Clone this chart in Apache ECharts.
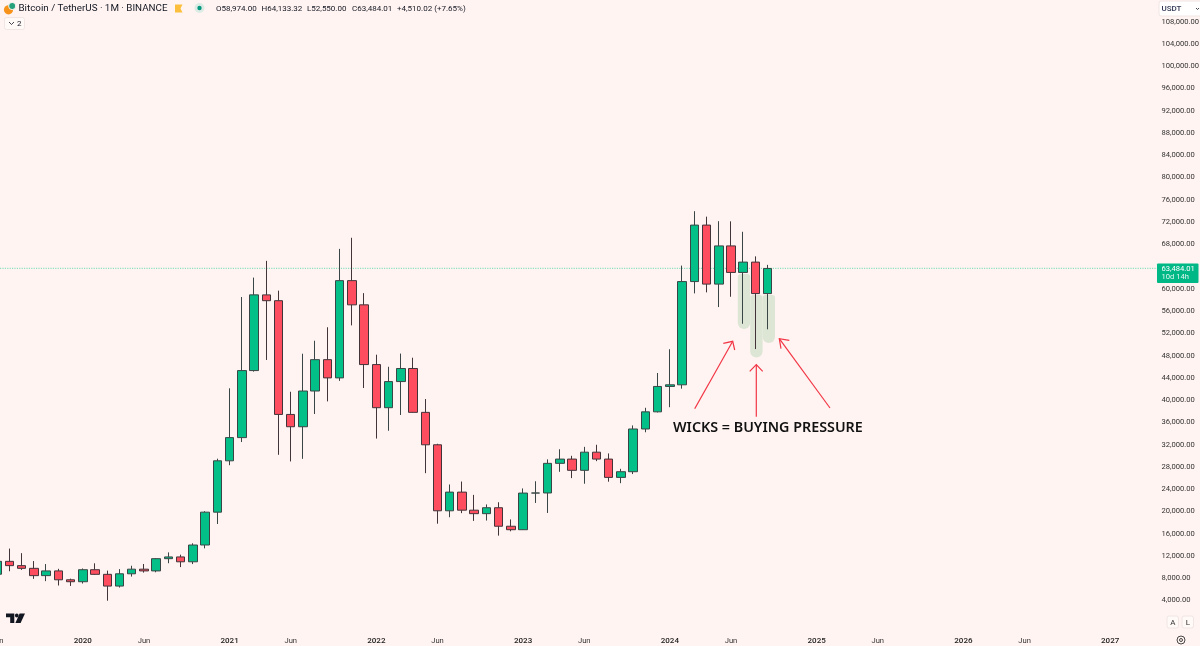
<!DOCTYPE html>
<html>
<head>
<meta charset="utf-8">
<title>BTCUSDT 1M</title>
<style>
html, body { margin: 0; padding: 0; background: #fff4f2; }
#chart { width: 1200px; height: 646px; }
</style>
<script src="https://cdn.jsdelivr.net/npm/echarts@6/dist/echarts.min.js"></script>
</head>
<body>
<div id="chart"></div>
<script>
// monthly candles, 2019-06 .. 2024-09
var opens = [8545, 10854, 10085, 9600, 8289, 9140, 7541,
    7195, 9352, 8523, 6412, 8620, 9448, 9138, 11335, 11649, 10776, 13791, 19695,
    28923, 33092, 45134, 58739, 57697, 37253, 35045, 41461, 47100, 43820, 61299, 56950,
    46216, 38466, 43160, 45510, 37630, 31801, 19942, 23296, 20050, 19423, 20490, 17165,
    16542, 23125, 23142, 28465, 29233, 27210, 30472, 29232, 25941, 26963, 34639, 37723,
    42283, 42580, 61130, 71280, 60672, 67540, 62772, 64628, 58974];
var closes = [10854, 10085, 9600, 8289, 9140, 7541, 7195,
    9352, 8523, 6410, 8620, 9448, 9138, 11335, 11649, 10776, 13791, 19695, 28923,
    33092, 45135, 58740, 57694, 37253, 35045, 41461, 47100, 43824, 61299, 56950, 46216,
    38466, 43160, 45510, 37630, 31801, 19942, 23296, 20050, 19423, 20490, 17164, 16542,
    23125, 23142, 28465, 29233, 27210, 30472, 29232, 25941, 26963, 34639, 37723, 42283,
    42580, 61130, 71280, 60672, 67540, 62772, 64628, 58974, 63484];
var lows = [7444, 9080, 9320, 7710, 7300, 6515, 6435,
    6871, 8445, 3782, 6150, 8117, 8833, 8893, 10518, 9825, 10367, 13195, 17572,
    28130, 32296, 44950, 47044, 30000, 28805, 29278, 37332, 39600, 43283, 53256, 42000,
    32917, 34322, 37155, 37578, 26700, 17622, 18781, 19520, 18125, 18190, 15476, 16256,
    16500, 21351, 19549, 26942, 25811, 24800, 28861, 25166, 24900, 26538, 34050, 37615,
    38555, 41884, 59005, 59191, 56552, 58402, 53550, 49000, 52550];
var highs = [13970, 13147, 12325, 10905, 10370, 9513, 7750,
    9575, 10500, 9188, 9460, 10067, 10380, 11444, 12468, 12050, 14100, 19863, 29300,
    41950, 58352, 61844, 64854, 59500, 41330, 48168, 50500, 52920, 67000, 69000, 59053,
    47990, 45821, 48190, 47444, 40023, 31982, 24668, 25200, 22799, 21085, 21480, 18387,
    23960, 25250, 29184, 31000, 29820, 31431, 31804, 30244, 27483, 35280, 38450, 44700,
    48969, 64000, 73777, 72797, 71979, 71958, 70079, 65660, 64133];
var lastClose = 63484.01;

// time scale runs on past the last candle, up to 2027-04
var months = [];
for (var m = 5; m < 5 + 95; m++) {
    months.push((2019 + Math.floor(m / 12)) + '-' + ('0' + (m % 12 + 1)).slice(-2));
}

var candleData = opens.map(function (o, i) {
    return [o, closes[i], lows[i], highs[i]];
});

var dark = '#131722';
var paper = '#fff4f2';
var sansFont = 'Roboto, "Noto Sans", sans-serif';

function label(x, y, text, font, fill, align) {
    return {
        type: 'text', x: x, y: y, z: 100,
        style: { text: text, font: font, fill: fill || dark, align: align || 'left', verticalAlign: 'middle' }
    };
}
function wickMark(x, top, bottom) {
    return {
        type: 'rect', z: 0, silent: true,
        shape: { x: x, y: top, width: 12.4, height: bottom - top, r: [3, 3, 6.2, 6.2] },
        style: { fill: '#dde6d4' }
    };
}
function arrow(points) {
    return {
        type: 'polyline', z: 100, silent: true,
        shape: { points: points },
        style: { stroke: '#f23645', lineWidth: 1.2, fill: null }
    };
}
function button(x, y, w, h, fill) {
    return {
        type: 'rect', z: 100, silent: true,
        shape: { x: x, y: y, width: w, height: h, r: 2 },
        style: { fill: fill || '#fff9f8', stroke: '#f0e6e4', lineWidth: 1 }
    };
}

var overlay = [
    // highlighted wicks, under the candles
    wickMark(737.8, 274, 329),
    wickMark(750.2, 295, 357.5),
    wickMark(762.6, 295, 343),
    // the three arrows
    arrow([[694.7, 408.7], [732.7, 341.3]]),
    arrow([[723.3, 343.3], [732.7, 341.3], [734.7, 350]]),
    arrow([[756.3, 416.7], [756.3, 364.7]]),
    arrow([[749.7, 371.3], [756.3, 364.7], [762.7, 371.3]]),
    arrow([[830, 408], [779.3, 338.7]]),
    arrow([[789.3, 340.3], [779.3, 338.7], [781, 348.7]]),
    label(673, 428, 'WICKS = BUYING PRESSURE', '600 14.3px "Noto Sans", sans-serif', '#111'),

    // header
    { type: 'circle', z: 100, shape: { cx: 8.5, cy: 9.8, r: 4.6 }, style: { fill: '#f7931a' } },
    { type: 'circle', z: 101, shape: { cx: 12.2, cy: 6, r: 3.6 }, style: { fill: '#26a17b', stroke: paper, lineWidth: 1 } },
    label(18.5, 8.5, 'Bitcoin / TetherUS · 1M · BINANCE', '9.8px ' + sansFont),
    { type: 'polygon', z: 100, shape: { points: [[175, 4.5], [182.5, 4.5], [180.5, 8.5], [182.5, 12.5], [175, 12.5]] }, style: { fill: '#fbbf3c' } },
    { type: 'circle', z: 100, shape: { cx: 199.5, cy: 8, r: 5 }, style: { fill: '#dcece4' } },
    { type: 'circle', z: 101, shape: { cx: 199.5, cy: 8, r: 2.2 }, style: { fill: '#089981' } },
    label(216, 8.5, 'O58,974.00', '8px ' + sansFont),
    label(261.5, 8.5, 'H64,133.32', '8px ' + sansFont),
    label(307, 8.5, 'L52,550.00', '8px ' + sansFont),
    label(352, 8.5, 'C63,484.01', '8px ' + sansFont),
    label(397, 8.5, '+4,510.02 (+7.65%)', '8px ' + sansFont),
    button(4.5, 17.5, 20, 12),
    { type: 'polyline', z: 101, shape: { points: [[9, 22], [11.5, 24.5], [14, 22]] }, style: { stroke: dark, lineWidth: 0.8, fill: null } },
    label(17, 23.5, '2', '8px ' + sansFont),

    // price scale furniture, the top label is cut off by the unit button
    { type: 'rect', z: 99, shape: { x: 1157, y: 15, width: 43, height: 3.5 }, style: { fill: paper } },
    button(1159, 1, 45, 15, '#ffffff'),
    label(1161.5, 8.5, 'USDT', '500 8px ' + sansFont, '#333a55'),
    { type: 'polyline', z: 101, shape: { points: [[1196, 8], [1197.5, 9.5], [1199, 8]] }, style: { stroke: dark, lineWidth: 0.8, fill: null } },
    { type: 'rect', z: 100, shape: { x: 1157, y: 263.5, width: 41.5, height: 19.5, r: 1 }, style: { fill: '#00b886' } },
    label(1161.5, 269.5, '63,484.01', '7.6px ' + sansFont, '#ffffff'),
    label(1161.5, 277.5, '10d 14h', '7.6px ' + sansFont, '#e4f7f0'),

    // bottom right buttons
    button(1167, 616, 11.5, 12),
    label(1172.8, 622.5, 'A', '8px ' + sansFont, '#333', 'center'),
    button(1182, 616, 11.5, 12),
    label(1187.8, 622.5, 'L', '8px ' + sansFont, '#333', 'center'),
    { type: 'circle', z: 100, shape: { cx: 1181, cy: 640, r: 4 }, style: { fill: null, stroke: '#333', lineWidth: 0.9 } },
    { type: 'circle', z: 100, shape: { cx: 1181, cy: 640, r: 1.5 }, style: { fill: null, stroke: '#333', lineWidth: 0.9 } },

    // tradingview mark
    { type: 'polygon', z: 100, shape: { points: [[6, 613.5], [14.3, 613.5], [14.3, 623], [10.2, 623], [10.2, 617.2], [6, 617.2]] }, style: { fill: dark } },
    { type: 'circle', z: 100, shape: { cx: 16.8, cy: 615.5, r: 1.9 }, style: { fill: dark } },
    { type: 'polygon', z: 100, shape: { points: [[19.6, 613.5], [25, 613.5], [20.6, 623], [15.4, 623]] }, style: { fill: dark } }
];

var myChart = echarts.init(document.getElementById('chart'));
myChart.setOption({
    animation: false,
    backgroundColor: paper,
    // v6 squeezes the grid back inside the canvas unless this is off
    grid: { left: -8.9, top: -1.52, width: 1161.85, height: 623.28, outerBoundsMode: 'none' },
    xAxis: {
        type: 'category',
        data: months,
        boundaryGap: true,
        axisLine: { show: false },
        axisTick: { show: false },
        splitLine: { show: false },
        axisLabel: {
            interval: 0,
            margin: 15.5,
            hideOverlap: false,
            color: '#333',
            fontFamily: 'Roboto, sans-serif',
            fontSize: 7.6,
            formatter: function (v) {
                var p = v.split('-');
                if (p[1] === '01') return '{year|' + p[0] + '}';
                if (p[1] === '06') return 'Jun';
                return '';
            },
            rich: { year: { fontWeight: 500, fontSize: 8, color: '#222', fontFamily: 'Roboto, sans-serif' } }
        }
    },
    yAxis: {
        type: 'value',
        position: 'right',
        min: 0,
        max: 112000,
        interval: 4000,
        axisLine: { show: false },
        axisTick: { show: false },
        splitLine: { show: false },
        axisLabel: {
            margin: 8.5,
            formatter: function (v) {
                if (v === 0 || v === 112000) return '';
                return '{p|' + v.toLocaleString('en-US', { minimumFractionDigits: 2 }) + '}';
            },
            rich: { p: { padding: [2, 0, 0, 0], color: '#333', fontFamily: 'Roboto, sans-serif', fontSize: 7.6 } }
        }
    },
    graphic: { elements: overlay },
    series: [{
        type: 'candlestick',
        name: 'BTCUSDT',
        data: candleData,
        barWidth: 9,
        z: 2,
        itemStyle: {
            color: '#03c088',
            color0: '#fe4d5e',
            borderColor: '#3a4646',
            borderColor0: '#43343a',
            borderWidth: 1
        }
    }]
});

// last price line, placed from the value axis, sits behind the candles
var lastY = myChart.convertToPixel({ yAxisIndex: 0 }, lastClose);
myChart.setOption({
    graphic: {
        elements: overlay.concat([{
            type: 'line', z: 1, silent: true,
            shape: { x1: 0, y1: lastY, x2: 1157, y2: lastY },
            style: { stroke: '#8fe0c2', lineWidth: 1.2, lineDash: [1.2, 1.2] }
        }])
    }
});
</script>
</body>
</html>
